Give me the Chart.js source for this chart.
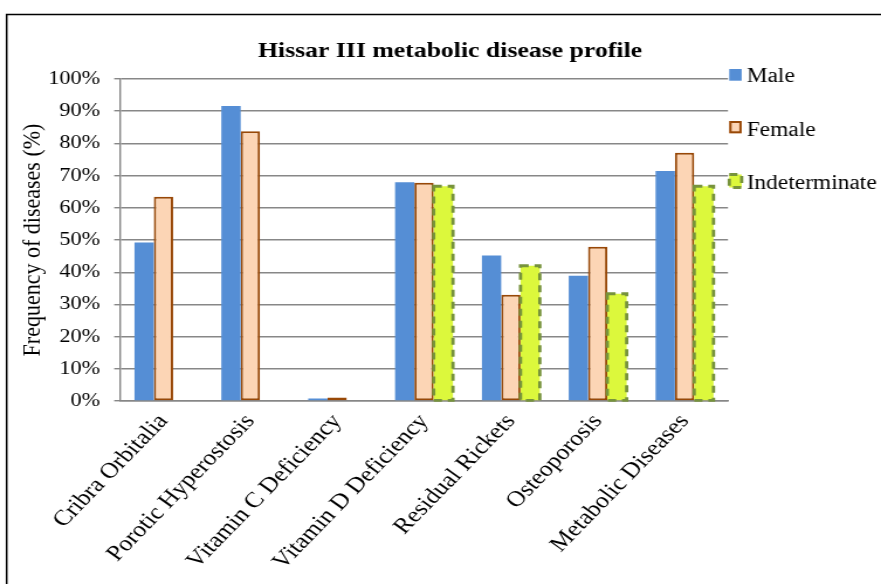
<!DOCTYPE html>
<html>
<head>
<meta charset="utf-8">
<script src="https://cdn.jsdelivr.net/npm/chart.js@4.4.1/dist/chart.umd.min.js"></script>
<style>
  html, body { margin: 0; padding: 0; background: #fff; overflow: hidden; }
  /* the source picture is stretched sideways, so the chart is too */
  #wrap { width: 753px; height: 584px; transform: scaleX(1.17); transform-origin: 0 0; }
</style>
</head>
<body>
<div id="wrap"><canvas id="chart" width="753" height="584"></canvas></div>
<script>
const categories = ['Cribra Orbitalia', 'Porotic Hyperostosis', 'Vitamin C Deficiency',
    'Vitamin D Deficiency', 'Residual Rickets', 'Osteoporosis', 'Metabolic Diseases'];
const male = [49.2, 91.6, 0.8, 67.9, 45.2, 38.9, 71.4];
const female = [63.4, 83.8, 1.1, 67.8, 33.0, 47.9, 77.1];
const indeterminate = [0, 0, 0, 66.7, 42.0, 33.3, 66.7];
const seriesNames = ['Male', 'Female', 'Indeterminate'];
const chartTitle = 'Hissar III metabolic disease profile';
const yAxisTitle = 'Frequency of diseases (%)';

const SERIF = '"Liberation Serif", "Times New Roman", serif';
const GRID = '#878787';
const colors = {
    male: '#558ED5',
    female: '#FCD5B5',
    femaleBorder: '#984807',
    indet: '#DCF83C',
    indetBorder: '#77933C',
};

// frame, title and legend are drawn by hand to sit where the original has them
const decorPlugin = {
    id: 'decor',
    beforeDraw(chart) {
        const ctx = chart.ctx;
        ctx.save();
        ctx.fillStyle = '#fff';
        ctx.fillRect(0, 0, chart.width, chart.height);
        ctx.strokeStyle = '#000';
        ctx.lineWidth = 1.5;
        ctx.strokeRect(5.7, 14.5, chart.width + 20, chart.height + 20);
        ctx.restore();
    },
    afterDraw(chart) {
        const ctx = chart.ctx;
        ctx.save();
        ctx.fillStyle = '#000';
        ctx.font = `bold 22px ${SERIF}`;
        ctx.textAlign = 'center';
        ctx.textBaseline = 'alphabetic';
        ctx.fillText(chartTitle, 384.6, 57.3);

        const bx = 623.3, tx = 638.2;
        const rows = [
            { top: 69, h: 11.7, base: 82 },
            { top: 121, h: 12.3, base: 135.5 },
            { top: 174.5, h: 13, base: 189 },
        ];
        rows.forEach((r, i) => {
            const ds = chart.data.datasets[i];
            ctx.fillStyle = ds.backgroundColor;
            ctx.fillRect(bx, r.top, 10.6, r.h);
            if (i === 1) {
                ctx.strokeStyle = colors.femaleBorder;
                ctx.lineWidth = 2;
                ctx.strokeRect(bx + 1, r.top + 1, 8.6, r.h - 2);
            } else if (i === 2) {
                ctx.strokeStyle = colors.indetBorder;
                ctx.lineWidth = 2.8;
                ctx.setLineDash([7, 5]);
                ctx.strokeRect(bx, r.top, 10.6, r.h);
                ctx.setLineDash([]);
            }
            ctx.fillStyle = '#000';
            ctx.font = `20px ${SERIF}`;
            ctx.textAlign = 'left';
            ctx.fillText(seriesNames[i], tx, r.base);
        });
        ctx.restore();
    },
};

// Chart.js bars have no dashed border, so stroke it over the indeterminate bars
const dashedBarsPlugin = {
    id: 'dashedBars',
    afterDatasetsDraw(chart) {
        const ctx = chart.ctx;
        const meta = chart.getDatasetMeta(2);
        ctx.save();
        ctx.strokeStyle = colors.indetBorder;
        ctx.lineWidth = 2.8;
        ctx.setLineDash([7, 5]);
        meta.data.forEach(bar => {
            const { x, y, base, width } = bar.getProps(['x', 'y', 'base', 'width'], true);
            if (Math.abs(base - y) < 0.5) return;
            ctx.strokeRect(x - width / 2, y, width, base - y);
        });
        ctx.restore();
    },
};

new Chart(document.getElementById('chart'), {
    type: 'bar',
    data: {
        labels: categories,
        datasets: [
            {
                label: seriesNames[0],
                data: male,
                backgroundColor: colors.male,
                borderWidth: 0,
            },
            {
                label: seriesNames[1],
                data: female,
                backgroundColor: colors.female,
                borderColor: colors.femaleBorder,
                borderWidth: 2,
                borderSkipped: false,
            },
            {
                label: seriesNames[2],
                data: indeterminate,
                backgroundColor: colors.indet,
                borderWidth: 0,
            },
        ],
    },
    options: {
        responsive: false,
        animation: false,
        categoryPercentage: 0.667,
        barPercentage: 1,
        layout: { padding: { left: 10, right: 130.8, top: 79, bottom: 0 } },
        plugins: {
            legend: { display: false },
            title: { display: false },
            tooltip: { enabled: false },
        },
        scales: {
            y: {
                min: 0,
                max: 100,
                afterFit: (scale) => { scale.width = 92.6; },
                ticks: {
                    stepSize: 10,
                    padding: 12,
                    color: '#000',
                    font: { family: SERIF, size: 19 },
                    callback: (v) => v + '%',
                },
                grid: { color: GRID, lineWidth: 1.4, tickLength: 5, tickColor: GRID },
                border: { color: GRID, width: 1.4 },
                title: {
                    display: true,
                    text: yAxisTitle,
                    color: '#000',
                    font: { family: SERIF, size: 22 },
                    padding: { top: 5, bottom: 0 },
                },
            },
            x: {
                afterFit: (scale) => { scale.height = 183; },
                grid: { display: false, drawTicks: false },
                border: { color: GRID, width: 1.4 },
                ticks: {
                    autoSkip: false,
                    minRotation: 50,
                    maxRotation: 50,
                    padding: 8,
                    color: '#000',
                    font: { family: SERIF, size: 22 },
                },
            },
        },
    },
    plugins: [decorPlugin, dashedBarsPlugin],
});
</script>
</body>
</html>
